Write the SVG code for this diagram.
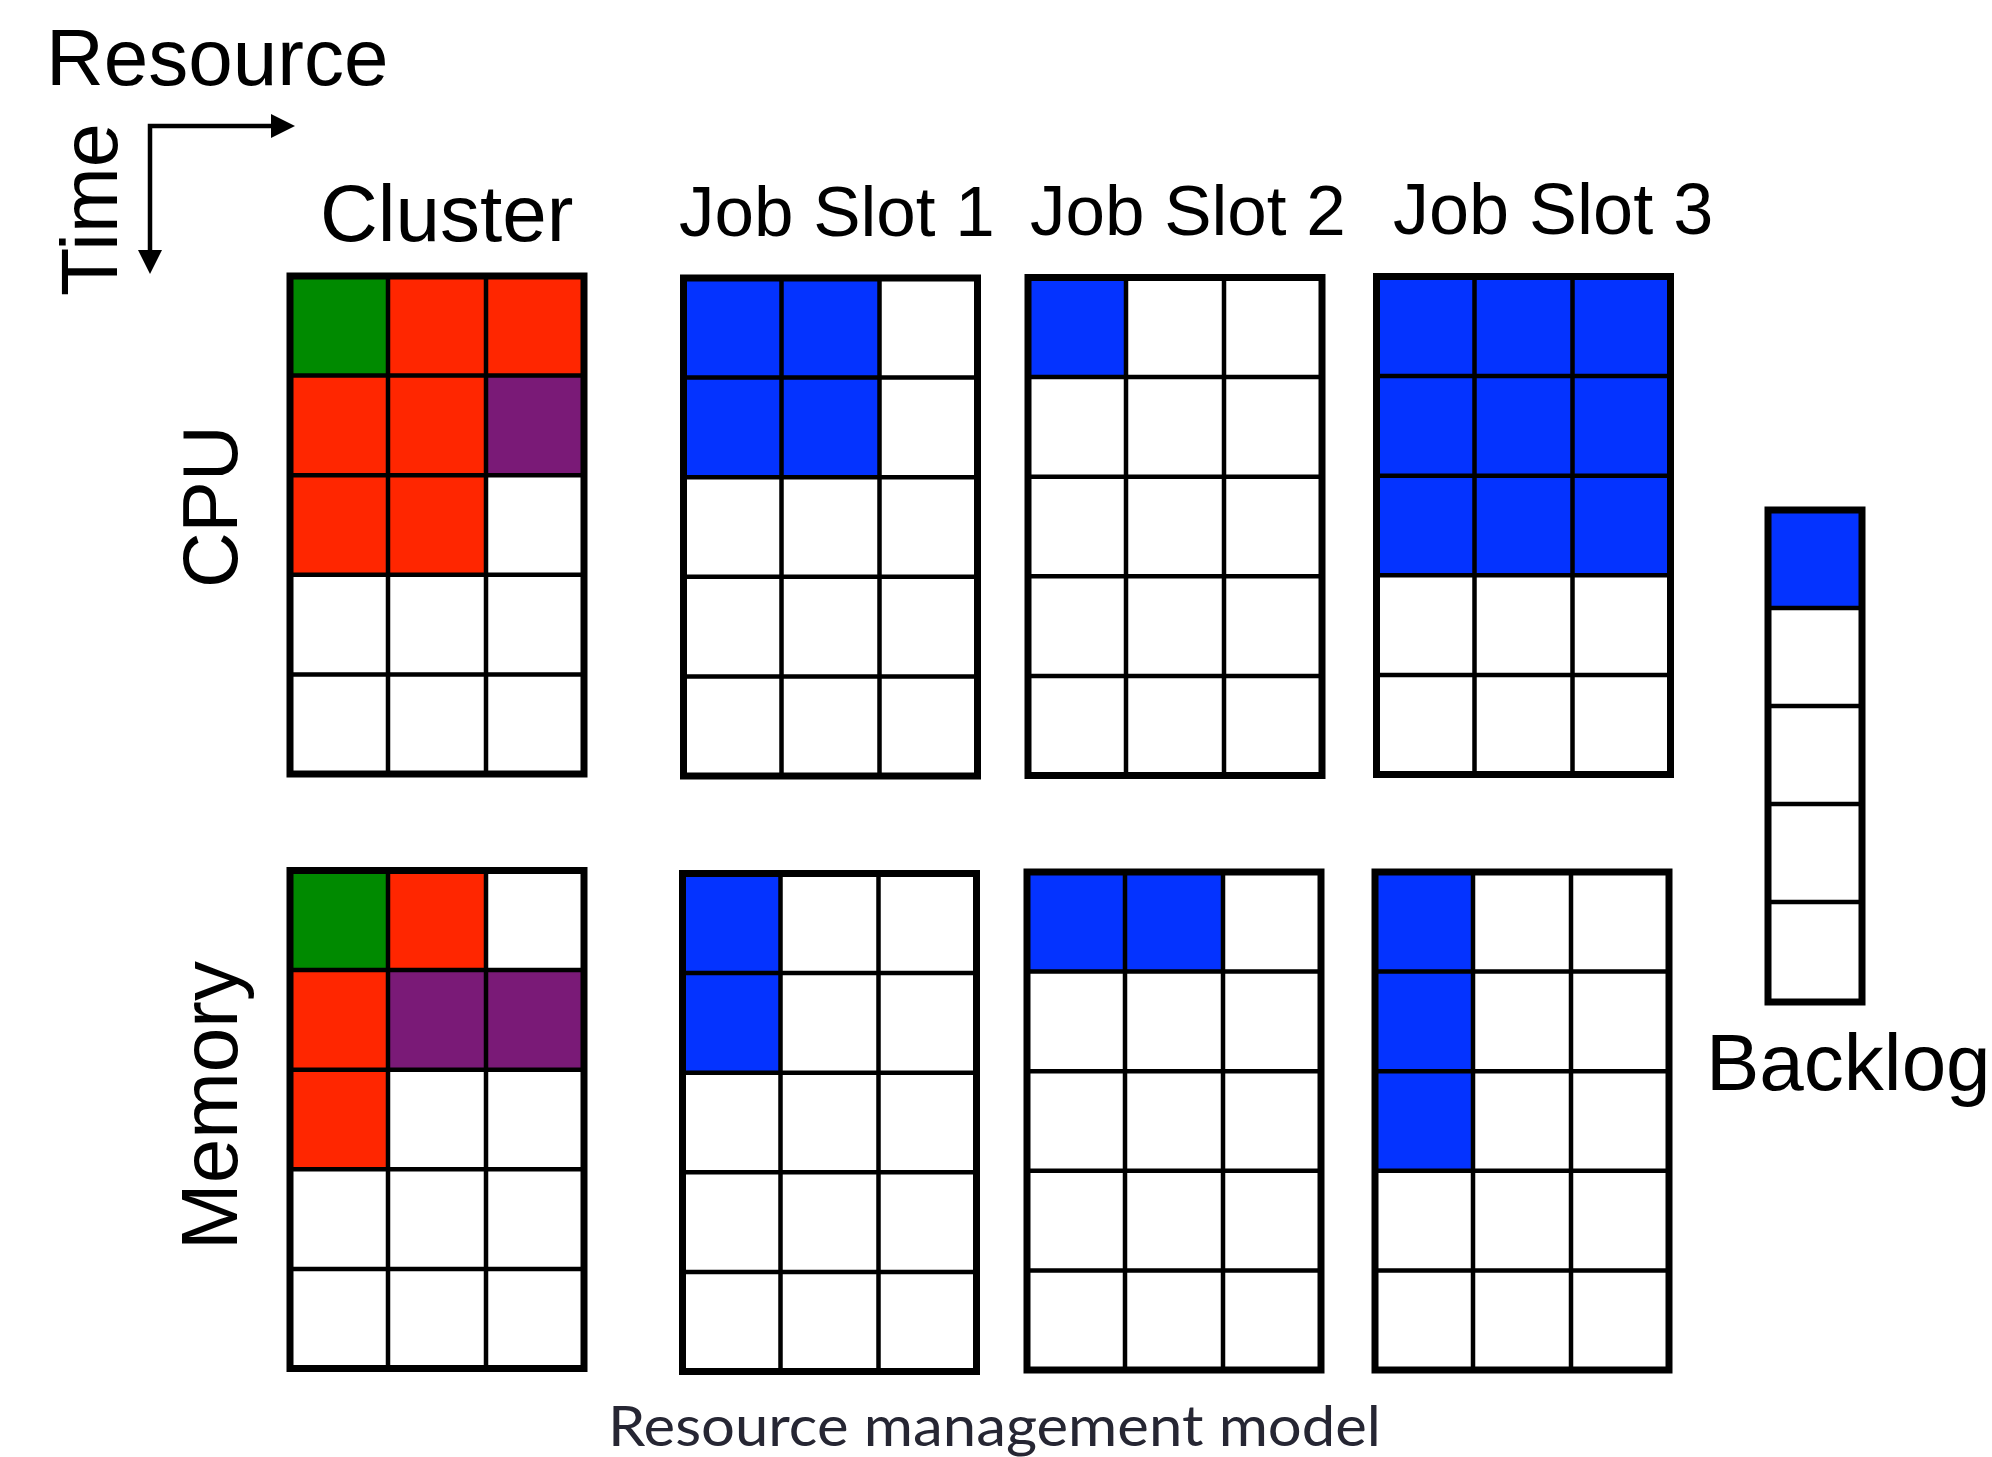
<svg xmlns="http://www.w3.org/2000/svg" width="1992" height="1457" viewBox="0 0 1992 1457">
<style>
  .lbl{font-family:"Liberation Sans",Arial,sans-serif;fill:#000;}
  .cap{font-family:Lato,"Open Sans",sans-serif;fill:#262633;}
  .outer{fill:none;stroke:#000;stroke-width:7;}
  .inner{fill:none;stroke:#000;stroke-width:4.5;}
  .g{fill:#008A00;} .r{fill:#FF2600;} .p{fill:#7A1A77;} .b{fill:#0433FF;} .w{fill:#fff;}
  .axis{fill:none;stroke:#000;stroke-width:4.5;stroke-linejoin:miter;}
</style>
<defs>
  <marker id="ah" markerWidth="24" markerHeight="24" refX="12" refY="12" orient="auto-start-reverse" markerUnits="userSpaceOnUse">
    <path d="M0,0 L24,12 L0,24 z" fill="#000"/>
  </marker>
</defs>
<rect width="1992" height="1457" fill="#fff"/>

<text class="lbl" x="46" y="85" font-size="80">Resource</text>
<text class="lbl" transform="translate(117,296) rotate(-90)" font-size="79">Time</text>
<text class="lbl" x="320" y="241" font-size="80">Cluster</text>
<text class="lbl" x="679" y="236" font-size="71">Job Slot 1</text>
<text class="lbl" x="1030" y="235" font-size="71">Job Slot 2</text>
<text class="lbl" x="1393" y="234" font-size="72">Job Slot 3</text>
<text class="lbl" transform="translate(237,588) rotate(-90)" font-size="77">CPU</text>
<text class="lbl" transform="translate(237,1250) rotate(-90)" font-size="80">Memory</text>
<text class="lbl" x="1706" y="1090" font-size="80">Backlog</text>
<text class="cap" x="608" y="1446" font-size="56" textLength="773" lengthAdjust="spacingAndGlyphs">Resource management model</text>

<g id="connectors">
  <path class="axis" d="M283,126 H150 V262" marker-start="url(#ah)" marker-end="url(#ah)"/>
</g>

<g id="cluster-cpu">
  <rect class="g" x="290" y="276" width="98" height="99.6"/>
  <rect class="r" x="388" y="276" width="196" height="99.6"/>
  <rect class="r" x="290" y="375.6" width="196" height="199.2"/>
  <rect class="p" x="486" y="375.6" width="98" height="99.6"/>
  <path class="inner" d="M388,276 V774 M486,276 V774 M290,375.6 H584 M290,475.2 H584 M290,574.8 H584 M290,674.4 H584"/>
  <rect class="outer" x="290" y="276" width="294" height="498"/>
</g>

<g id="jobslot1-cpu">
  <rect class="b" x="683.5" y="278" width="196" height="199.2"/>
  <path class="inner" d="M781.5,278 V776 M879.5,278 V776 M683.5,377.6 H977.5 M683.5,477.2 H977.5 M683.5,576.8 H977.5 M683.5,676.4 H977.5"/>
  <rect class="outer" x="683.5" y="278" width="294" height="498"/>
</g>

<g id="jobslot2-cpu">
  <rect class="b" x="1028" y="277.5" width="98" height="99.6"/>
  <path class="inner" d="M1126,277.5 V775.5 M1224,277.5 V775.5 M1028,377.1 H1322 M1028,476.7 H1322 M1028,576.3 H1322 M1028,675.9 H1322"/>
  <rect class="outer" x="1028" y="277.5" width="294" height="498"/>
</g>

<g id="jobslot3-cpu">
  <rect class="b" x="1376.5" y="276.5" width="294" height="298.8"/>
  <path class="inner" d="M1474.5,276.5 V774.5 M1572.5,276.5 V774.5 M1376.5,376.1 H1670.5 M1376.5,475.7 H1670.5 M1376.5,575.3 H1670.5 M1376.5,674.9 H1670.5"/>
  <rect class="outer" x="1376.5" y="276.5" width="294" height="498"/>
</g>

<g id="cluster-memory">
  <rect class="g" x="290" y="870.5" width="98" height="99.6"/>
  <rect class="r" x="388" y="870.5" width="98" height="99.6"/>
  <rect class="r" x="290" y="970.1" width="98" height="199.2"/>
  <rect class="p" x="388" y="970.1" width="196" height="99.6"/>
  <path class="inner" d="M388,870.5 V1368.5 M486,870.5 V1368.5 M290,970.1 H584 M290,1069.7 H584 M290,1169.3 H584 M290,1268.9 H584"/>
  <rect class="outer" x="290" y="870.5" width="294" height="498"/>
</g>

<g id="jobslot1-memory">
  <rect class="b" x="682.5" y="873.5" width="98" height="199.2"/>
  <path class="inner" d="M780.5,873.5 V1371.5 M878.5,873.5 V1371.5 M682.5,973.1 H976.5 M682.5,1072.7 H976.5 M682.5,1172.3 H976.5 M682.5,1271.9 H976.5"/>
  <rect class="outer" x="682.5" y="873.5" width="294" height="498"/>
</g>

<g id="jobslot2-memory">
  <rect class="b" x="1027" y="872" width="196" height="99.6"/>
  <path class="inner" d="M1125,872 V1370 M1223,872 V1370 M1027,971.6 H1321 M1027,1071.2 H1321 M1027,1170.8 H1321 M1027,1270.4 H1321"/>
  <rect class="outer" x="1027" y="872" width="294" height="498"/>
</g>

<g id="jobslot3-memory">
  <rect class="b" x="1375" y="872" width="98" height="298.8"/>
  <path class="inner" d="M1473,872 V1370 M1571,872 V1370 M1375,971.6 H1669 M1375,1071.2 H1669 M1375,1170.8 H1669 M1375,1270.4 H1669"/>
  <rect class="outer" x="1375" y="872" width="294" height="498"/>
</g>

<g id="backlog">
  <rect class="b" x="1768" y="510" width="94" height="98"/>
  <path class="inner" d="M1768,608 H1862 M1768,706 H1862 M1768,804 H1862 M1768,902 H1862"/>
  <rect class="outer" x="1768" y="510" width="94" height="492"/>
</g>
</svg>
